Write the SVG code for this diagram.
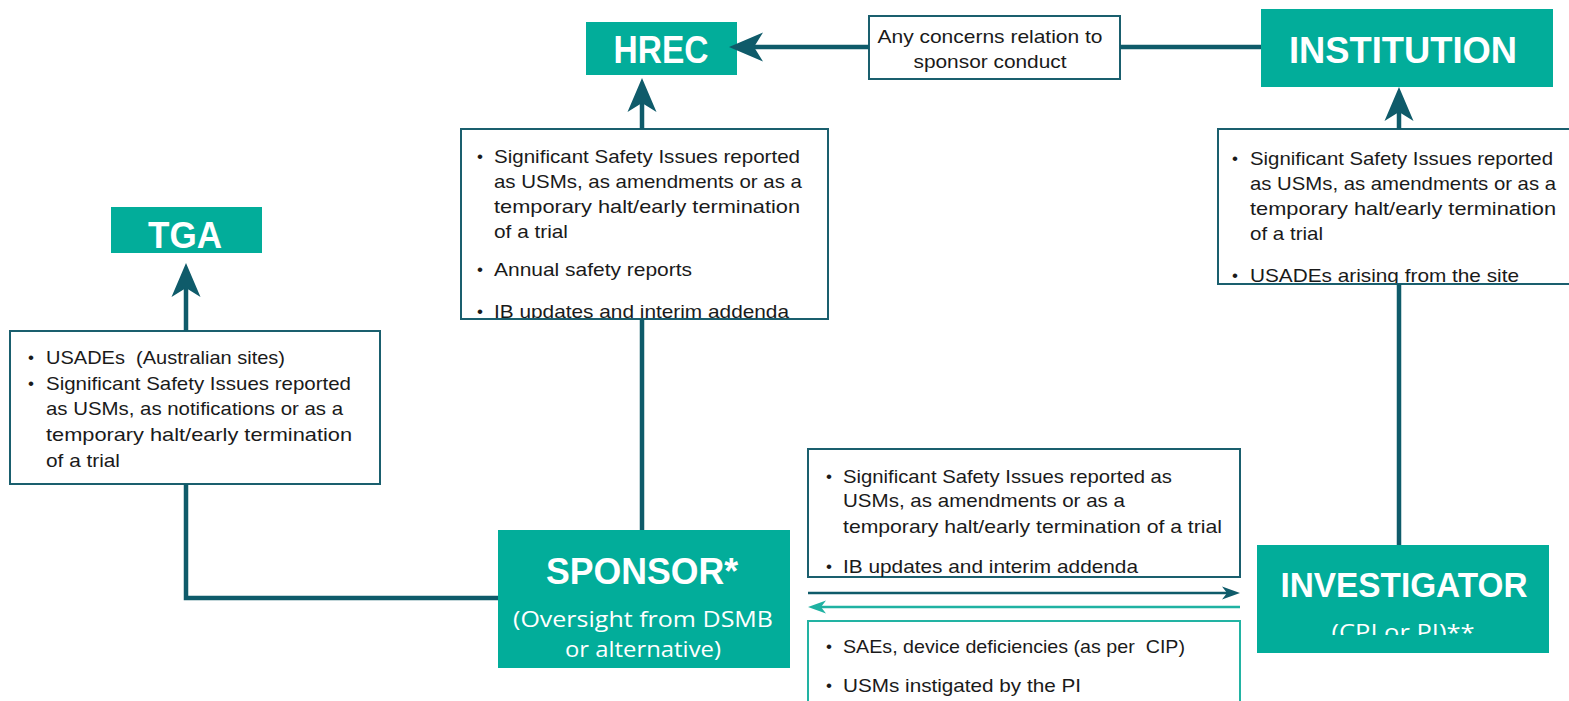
<svg xmlns="http://www.w3.org/2000/svg" width="1569" height="701" viewBox="0 0 1569 701">
<style>
.teal{fill:#02AD9A}
.box{fill:#fff;stroke:#1A5F6E;stroke-width:2}
.boxl{fill:#fff;stroke:#22B3A3;stroke-width:2}
.title{font-family:"Liberation Sans",Arial,sans-serif;font-weight:bold;fill:#fff}
.sub{font-family:"Open Sans","Liberation Sans",sans-serif;fill:#fff;font-size:22px}
.t{font-family:"Liberation Sans",Arial,sans-serif;font-size:18.5px;fill:#1a1a1a;white-space:pre}
.b{font-family:"Liberation Sans",Arial,sans-serif;font-size:17px;fill:#1a1a1a;text-anchor:middle}
.conn{fill:none;stroke:#0F5B6A;stroke-width:4.5}
.thin{fill:none;stroke:#0F5B6A;stroke-width:2.5}
.thinl{fill:none;stroke:#1FB2A2;stroke-width:2.5}
</style>
<defs>
<marker id="big" viewBox="-34 -15 34 30" refX="-25" refY="0" markerWidth="34" markerHeight="30" markerUnits="userSpaceOnUse" orient="auto">
<path d="M0,0 L-34,-14.5 L-25,0 L-34,14.5 Z" fill="#0F5B6A"/>
</marker>
<marker id="sm" viewBox="-18 -7 18 14" refX="-12" refY="0" markerWidth="18" markerHeight="14" markerUnits="userSpaceOnUse" orient="auto">
<path d="M0,0 L-18,-6.5 L-13,0 L-18,6.5 Z" fill="#0F5B6A"/>
</marker>
<marker id="sml" viewBox="-18 -7 18 14" refX="-12" refY="0" markerWidth="18" markerHeight="14" markerUnits="userSpaceOnUse" orient="auto">
<path d="M0,0 L-18,-6.5 L-13,0 L-18,6.5 Z" fill="#1FB2A2"/>
</marker>
<clipPath id="cHrecInfo"><rect x="461" y="129" width="367" height="190"/></clipPath>
<clipPath id="cInstInfo"><rect x="1218" y="129" width="351" height="155"/></clipPath>
<clipPath id="cInv"><rect x="1257" y="545" width="292" height="90"/></clipPath>
</defs>

<g id="hrec">
<rect class="teal" x="586" y="22" width="151" height="53"/>
<text class="title" x="661" y="63" font-size="38" text-anchor="middle" textLength="95" lengthAdjust="spacingAndGlyphs">HREC</text>
</g>

<g id="institution">
<rect class="teal" x="1261" y="9" width="292" height="78"/>
<text class="title" x="1403" y="63" font-size="36" text-anchor="middle" textLength="228" lengthAdjust="spacingAndGlyphs">INSTITUTION</text>
</g>

<g id="tga">
<rect class="teal" x="111" y="207" width="151" height="46"/>
<text class="title" x="185" y="248" font-size="37" text-anchor="middle" textLength="74" lengthAdjust="spacingAndGlyphs">TGA</text>
</g>

<g id="sponsor">
<rect class="teal" x="498" y="530" width="292" height="138"/>
<text class="title" x="642" y="584" font-size="37" text-anchor="middle" textLength="192" lengthAdjust="spacingAndGlyphs">SPONSOR*</text>
<text class="sub" x="643" y="627" text-anchor="middle" textLength="260" lengthAdjust="spacingAndGlyphs">(Oversight from DSMB</text>
<text class="sub" x="643" y="657" text-anchor="middle" textLength="156" lengthAdjust="spacingAndGlyphs">or alternative)</text>
</g>

<g id="investigator">
<rect class="teal" x="1257" y="545" width="292" height="108"/>
<text class="title" x="1404" y="597" font-size="35" text-anchor="middle" textLength="247" lengthAdjust="spacingAndGlyphs">INVESTIGATOR</text>
<g clip-path="url(#cInv)">
<text class="sub" x="1403" y="640" text-anchor="middle" textLength="143" lengthAdjust="spacingAndGlyphs">(CPI or PI)**</text>
</g>
</g>

<g id="concerns-label">
<rect class="box" x="869" y="16" width="251" height="63"/>
<text class="t" x="990" y="43" text-anchor="middle" textLength="225" lengthAdjust="spacingAndGlyphs">Any concerns relation to</text>
<text class="t" x="990" y="68" text-anchor="middle" textLength="153" lengthAdjust="spacingAndGlyphs">sponsor conduct</text>
</g>

<g id="hrec-info">
<rect class="box" x="461" y="129" width="367" height="190"/>
<g clip-path="url(#cHrecInfo)">
<text class="b" x="480" y="162">•</text>
<text class="t" x="494" y="163" textLength="306" lengthAdjust="spacingAndGlyphs">Significant Safety Issues reported</text>
<text class="t" x="494" y="188" textLength="308" lengthAdjust="spacingAndGlyphs">as USMs, as amendments or as a</text>
<text class="t" x="494" y="213" textLength="306" lengthAdjust="spacingAndGlyphs">temporary halt/early termination</text>
<text class="t" x="494" y="238" textLength="74" lengthAdjust="spacingAndGlyphs">of a trial</text>
<text class="b" x="480" y="275">•</text>
<text class="t" x="494" y="276" textLength="198" lengthAdjust="spacingAndGlyphs">Annual safety reports</text>
<text class="b" x="480" y="317">•</text>
<text class="t" x="494" y="318" textLength="295" lengthAdjust="spacingAndGlyphs">IB updates and interim addenda</text>
</g>
<rect x="461" y="129" width="367" height="190" fill="none" stroke="#1A5F6E" stroke-width="2"/>
</g>

<g id="institution-info">
<rect class="box" x="1218" y="129" width="360" height="155"/>
<g clip-path="url(#cInstInfo)">
<text class="b" x="1235" y="164">•</text>
<text class="t" x="1250" y="165" textLength="303" lengthAdjust="spacingAndGlyphs">Significant Safety Issues reported</text>
<text class="t" x="1250" y="190" textLength="306" lengthAdjust="spacingAndGlyphs">as USMs, as amendments or as a</text>
<text class="t" x="1250" y="215" textLength="306" lengthAdjust="spacingAndGlyphs">temporary halt/early termination</text>
<text class="t" x="1250" y="240" textLength="73" lengthAdjust="spacingAndGlyphs">of a trial</text>
<text class="b" x="1235" y="281">•</text>
<text class="t" x="1250" y="282" textLength="269" lengthAdjust="spacingAndGlyphs">USADEs arising from the site</text>
</g>
<rect x="1218" y="129" width="360" height="155" fill="none" stroke="#1A5F6E" stroke-width="2"/>
</g>

<g id="tga-info">
<rect class="box" x="10" y="331" width="370" height="153"/>
<text class="b" x="31" y="363">•</text>
<text class="t" x="46" y="364" textLength="239" lengthAdjust="spacingAndGlyphs" xml:space="preserve">USADEs  (Australian sites)</text>
<text class="b" x="31" y="389">•</text>
<text class="t" x="46" y="390" textLength="305" lengthAdjust="spacingAndGlyphs">Significant Safety Issues reported</text>
<text class="t" x="46" y="415" textLength="297" lengthAdjust="spacingAndGlyphs">as USMs, as notifications or as a</text>
<text class="t" x="46" y="441" textLength="306" lengthAdjust="spacingAndGlyphs">temporary halt/early termination</text>
<text class="t" x="46" y="467" textLength="74" lengthAdjust="spacingAndGlyphs">of a trial</text>
</g>

<g id="sponsor-to-investigator-info">
<rect class="box" x="808" y="449" width="432" height="128"/>
<text class="b" x="829" y="482">•</text>
<text class="t" x="843" y="483" textLength="329" lengthAdjust="spacingAndGlyphs">Significant Safety Issues reported as</text>
<text class="t" x="843" y="507" textLength="282" lengthAdjust="spacingAndGlyphs">USMs, as amendments or as a</text>
<text class="t" x="843" y="533" textLength="379" lengthAdjust="spacingAndGlyphs">temporary halt/early termination of a trial</text>
<text class="b" x="829" y="572">•</text>
<text class="t" x="843" y="573" textLength="295" lengthAdjust="spacingAndGlyphs">IB updates and interim addenda</text>
</g>

<g id="investigator-to-sponsor-info">
<rect class="boxl" x="808" y="621" width="432" height="100"/>
<text class="b" x="829" y="652">•</text>
<text class="t" x="843" y="653" textLength="342" lengthAdjust="spacingAndGlyphs" xml:space="preserve">SAEs, device deficiencies (as per  CIP)</text>
<text class="b" x="829" y="691">•</text>
<text class="t" x="843" y="692" textLength="238" lengthAdjust="spacingAndGlyphs">USMs instigated by the PI</text>
</g>

<g id="connectors">
<line class="conn" x1="869" y1="47" x2="754" y2="47" marker-end="url(#big)"/>
<line class="conn" x1="1120" y1="47" x2="1261" y2="47"/>
<line class="conn" x1="642" y1="129" x2="642" y2="103" marker-end="url(#big)"/>
<line class="conn" x1="642" y1="319" x2="642" y2="530"/>
<line class="conn" x1="1399" y1="129" x2="1399" y2="112" marker-end="url(#big)"/>
<line class="conn" x1="1399" y1="284" x2="1399" y2="545"/>
<line class="conn" x1="186" y1="331" x2="186" y2="288" marker-end="url(#big)"/>
<polyline class="conn" points="186,484 186,598 498,598"/>
<line class="thin" x1="808" y1="593" x2="1228" y2="593" marker-end="url(#sm)"/>
<line class="thinl" x1="1240" y1="607" x2="820" y2="607" marker-end="url(#sml)"/>
</g>
</svg>
